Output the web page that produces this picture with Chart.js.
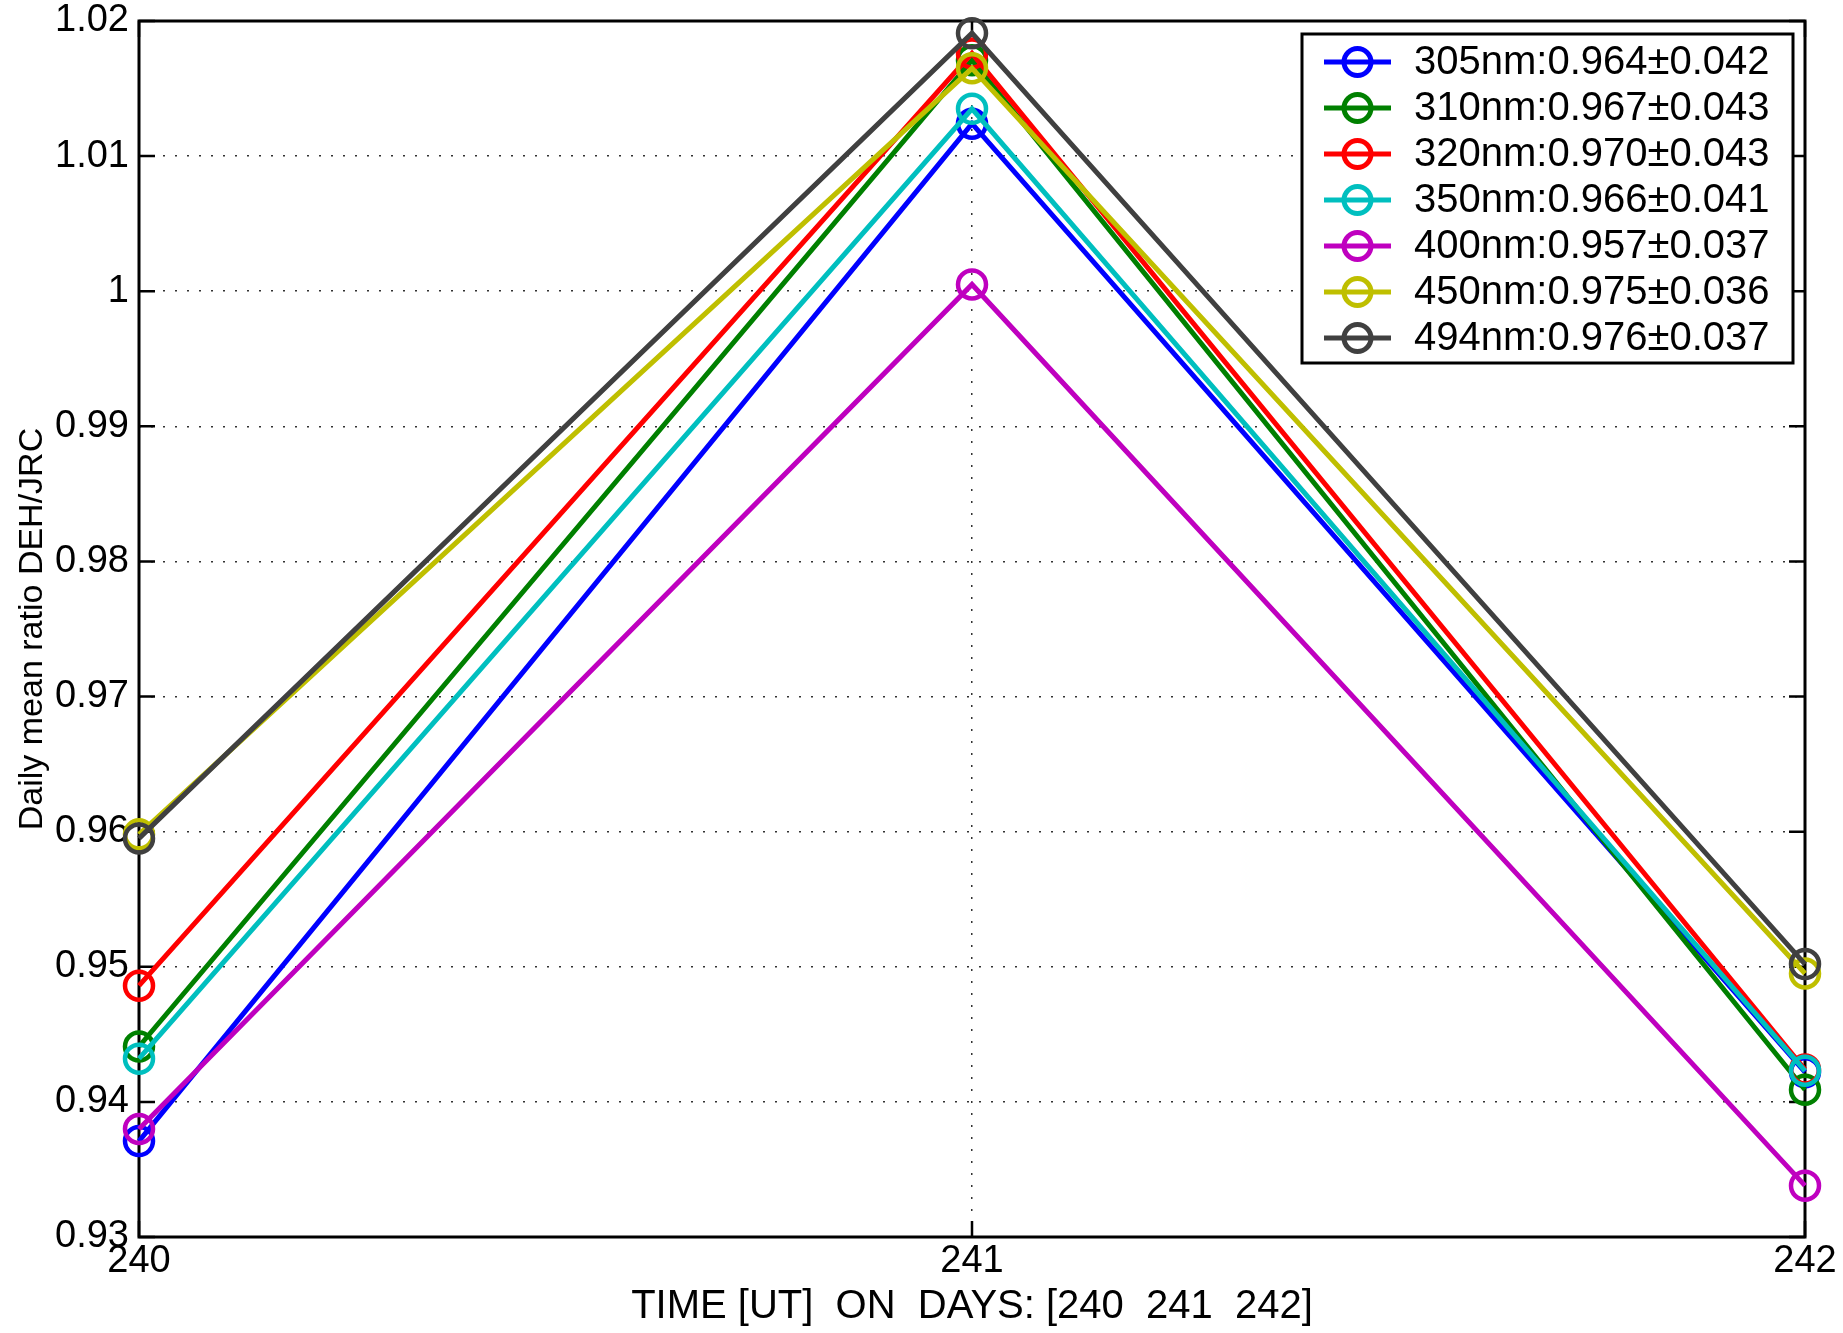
<!DOCTYPE html>
<html>
<head>
<meta charset="utf-8">
<script src="https://cdn.jsdelivr.net/npm/chart.js@4.4.1/dist/chart.umd.min.js"></script>
<style>
  html, body { margin: 0; padding: 0; background: #fff; }
  #wrap { width: 1843px; height: 1333px; }
</style>
</head>
<body>
<div id="wrap"><canvas id="myChart" width="1843" height="1333"></canvas></div>
<script>
const days = [240, 241, 242];
const yTicks = [0.93, 0.94, 0.95, 0.96, 0.97, 0.98, 0.99, 1.00, 1.01, 1.02];

const labels = [
  '305nm:0.964\u00b10.042',
  '310nm:0.967\u00b10.043',
  '320nm:0.970\u00b10.043',
  '350nm:0.966\u00b10.041',
  '400nm:0.957\u00b10.037',
  '450nm:0.975\u00b10.036',
  '494nm:0.976\u00b10.037'
];
const colors = ['#0000ff', '#008000', '#ff0000', '#00bfbf', '#bf00bf', '#bfbf00', '#404040'];

const r305 = [0.9371, 1.0124, 0.9422];
const r310 = [0.9441, 1.0171, 0.9409];
const r320 = [0.9486, 1.0176, 0.9424];
const r350 = [0.9432, 1.0135, 0.9423];
const r400 = [0.9380, 1.0005, 0.9338];
const r450 = [0.9598, 1.0165, 0.9495];
const r494 = [0.9595, 1.0191, 0.9502];
const series = [r305, r310, r320, r350, r400, r450, r494];

const FONT = '"Liberation Sans", Arial, Helvetica, sans-serif';

const frame = {
  id: 'frame',
  beforeDatasetsDraw(chart) {
    const { ctx, chartArea: a, scales } = chart;
    ctx.save();
    ctx.strokeStyle = '#000';
    ctx.lineWidth = 2.5;
    const tl = 16;
    ctx.beginPath();
    yTicks.forEach(v => {
      const y = scales.y.getPixelForValue(v);
      ctx.moveTo(a.left, y); ctx.lineTo(a.left + tl, y);
      ctx.moveTo(a.right, y); ctx.lineTo(a.right - tl, y);
    });
    days.forEach(d => {
      const x = scales.x.getPixelForValue(d);
      ctx.moveTo(x, a.bottom); ctx.lineTo(x, a.bottom - tl);
      ctx.moveTo(x, a.top); ctx.lineTo(x, a.top + tl);
    });
    ctx.stroke();
    ctx.lineWidth = 3;
    ctx.strokeRect(a.left, a.top, a.right - a.left, a.bottom - a.top);
    ctx.restore();
  },
  afterDraw(chart) {
    // legend box in the upper right corner
    const { ctx, chartArea: a } = chart;
    const bx = a.right - 503, by = a.top + 13, bw = 491, bh = 329;
    ctx.save();
    ctx.fillStyle = '#fff';
    ctx.fillRect(bx, by, bw, bh);
    ctx.strokeStyle = '#000';
    ctx.lineWidth = 3;
    ctx.strokeRect(bx, by, bw, bh);
    ctx.font = '40px ' + FONT;
    ctx.textBaseline = 'middle';
    ctx.textAlign = 'left';
    chart.data.datasets.forEach((ds, i) => {
      const y = by + 28 + i * 46;
      ctx.strokeStyle = ds.borderColor;
      ctx.lineWidth = 5;
      ctx.beginPath();
      ctx.moveTo(bx + 22, y); ctx.lineTo(bx + 89, y);
      ctx.stroke();
      ctx.beginPath();
      ctx.arc(bx + 55.5, y, 13.5, 0, Math.PI * 2);
      ctx.stroke();
      ctx.fillStyle = '#000';
      ctx.fillText(ds.label, bx + 112, y + 1);
    });
    ctx.restore();
  }
};

const datasets = series.map((vals, i) => ({
  label: labels[i],
  data: vals.map((v, j) => ({ x: days[j], y: v })),
  borderColor: colors[i],
  backgroundColor: 'rgba(0,0,0,0)',
  borderWidth: 5,
  pointRadius: 14,
  pointBorderWidth: 4.5,
  pointBackgroundColor: 'rgba(0,0,0,0)',
  pointBorderColor: colors[i],
  tension: 0,
  clip: false,
  order: series.length - i
}));

new Chart(document.getElementById('myChart').getContext('2d'), {
  type: 'line',
  data: { datasets },
  options: {
    responsive: false,
    animation: false,
    devicePixelRatio: 1,
    layout: { padding: { top: 21, right: 38, left: 0, bottom: 0 } },
    plugins: { legend: { display: false }, tooltip: { enabled: false } },
    scales: {
      x: {
        type: 'linear',
        min: 240, max: 242,
        afterFit: s => { s.height = 96; s.paddingLeft = 0; s.paddingRight = 0; },
        afterBuildTicks: s => { s.ticks = days.map(v => ({ value: v })); },
        ticks: {
          color: '#000', font: { family: FONT, size: 38 }, padding: 2,
          maxRotation: 0, callback: v => String(v)
        },
        grid: { color: '#333', lineWidth: 1.5, drawTicks: false },
        border: { display: false, dash: [2, 10] },
        title: {
          display: true,
          text: 'TIME [UT]  ON  DAYS: [240  241  242]',
          color: '#000',
          font: { family: FONT, size: 40 },
          padding: { top: 0, bottom: 2 }
        }
      },
      y: {
        min: 0.93, max: 1.02,
        afterFit: s => { s.width = 139; s.paddingTop = 0; s.paddingBottom = 0; },
        afterBuildTicks: s => { s.ticks = yTicks.map(v => ({ value: v })); },
        ticks: {
          color: '#000', font: { family: FONT, size: 38 }, padding: 10,
          callback: v => String(parseFloat(Number(v).toFixed(2)))
        },
        grid: { color: '#333', lineWidth: 1.5, drawTicks: false },
        border: { display: false, dash: [2, 10] },
        title: {
          display: true,
          text: 'Daily mean ratio DEH/JRC',
          color: '#000',
          font: { family: FONT, size: 34 },
          padding: { top: 12, bottom: 0 }
        }
      }
    }
  },
  plugins: [frame]
});
</script>
</body>
</html>
